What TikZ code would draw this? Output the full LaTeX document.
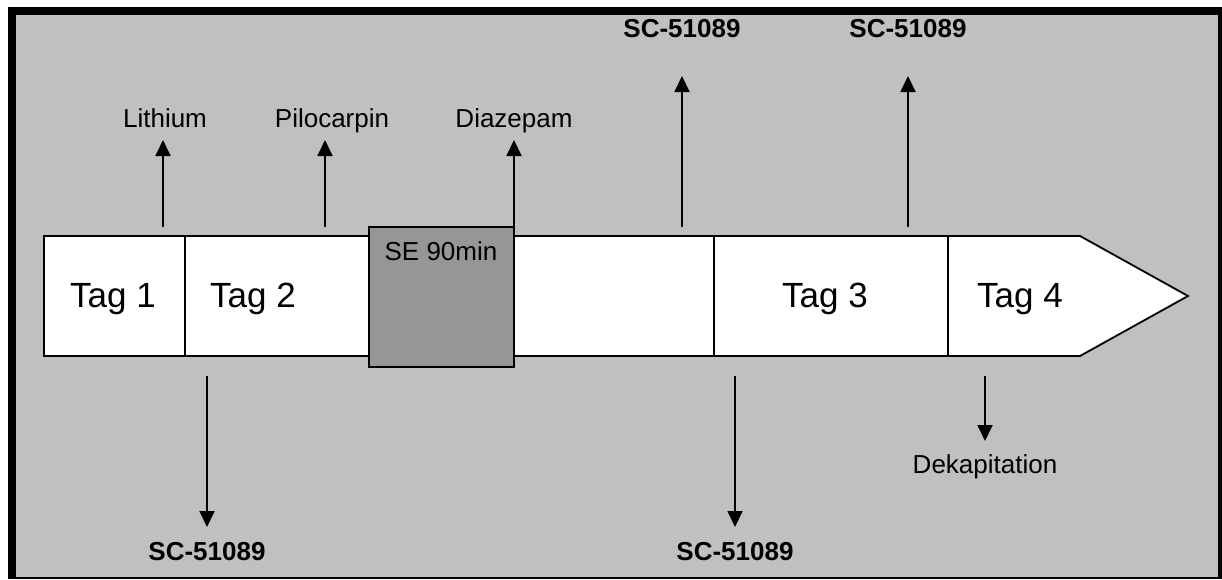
\documentclass[tikz,border=0pt]{standalone}
\usepackage{fontspec}
\setmainfont{Liberation Sans}
\usetikzlibrary{arrows.meta}
\definecolor{bggray}{RGB}{192,192,192}
\definecolor{segray}{RGB}{150,150,150}
\begin{document}
\begin{tikzpicture}[x=1pt,y=-1pt,
  lbl/.style={inner sep=0pt,anchor=base,font=\fontsize{26}{30}\selectfont},
  blbl/.style={lbl,font=\fontsize{26}{30}\selectfont\bfseries},
  taglbl/.style={inner sep=0pt,anchor=base,font=\fontsize{35}{40}\selectfont},
  arr/.style={line width=1.8pt,-{Triangle[length=16pt,width=15pt]}},
  frameline/.style={line width=1.8pt}]
\useasboundingbox (0,0) rectangle (1222,579);
% frame
\fill[black] (8,7) rectangle (1222,579);
\fill[bggray] (16,15) rectangle (1218,577);
% timeline
\draw[frameline,fill=white] (44,236) -- (1080,236) -- (1188,296) -- (1080,356) -- (44,356) -- cycle;
\draw[frameline] (185,236) -- (185,356);
\draw[frameline] (714,236) -- (714,356);
\draw[frameline] (948,236) -- (948,356);
\node[draw,frameline,fill=segray,minimum width=145pt,minimum height=140pt,inner sep=0pt,anchor=north west] (se) at (368,226) {};
\node[lbl] (setext) at (441,260) {SE 90min};
% tag labels
\node[taglbl] (t1) at (113,307) {Tag 1};
\node[taglbl] (t2) at (253,307) {Tag 2};
\node[taglbl] (t3) at (825,307) {Tag 3};
\node[taglbl] (t4) at (1020,307) {Tag 4};
% upper labels
\node[lbl] (li) at (165,127) {Lithium};
\node[lbl] (pi) at (332,127) {Pilocarpin};
\node[lbl] (di) at (514,127) {Diazepam};
\node[blbl] (sc1) at (682,37) {SC-51089};
\node[blbl] (sc2) at (908,37) {SC-51089};
% lower labels
\node[blbl] (sc3) at (207,560) {SC-51089};
\node[blbl] (sc4) at (735,560) {SC-51089};
\node[lbl] (dk) at (985,473) {Dekapitation};
% arrow starts
\coordinate (aLi) at (163,227);
\coordinate (aPi) at (325,227);
\coordinate (aDi) at (514,226);
\coordinate (aS1) at (682,227);
\coordinate (aS2) at (908,227);
\coordinate (aS3) at (207,376);
\coordinate (aS4) at (735,376);
\coordinate (aDk) at (985,376);
% arrows
\draw[arr] (aLi) -- ([yshift=-13pt]aLi |- li.base);
\draw[arr] (aPi) -- ([yshift=-13pt]aPi |- pi.base);
\draw[arr] (aDi) -- ([yshift=-13pt]aDi |- di.base);
\draw[arr] (aS1) -- ([yshift=-39pt]aS1 |- sc1.base);
\draw[arr] (aS2) -- ([yshift=-39pt]aS2 |- sc2.base);
\draw[arr] (aS3) -- ([yshift=33pt]aS3 |- sc3.base);
\draw[arr] (aS4) -- ([yshift=33pt]aS4 |- sc4.base);
\draw[arr] (aDk) -- ([yshift=32pt]aDk |- dk.base);
\end{tikzpicture}
\end{document}
